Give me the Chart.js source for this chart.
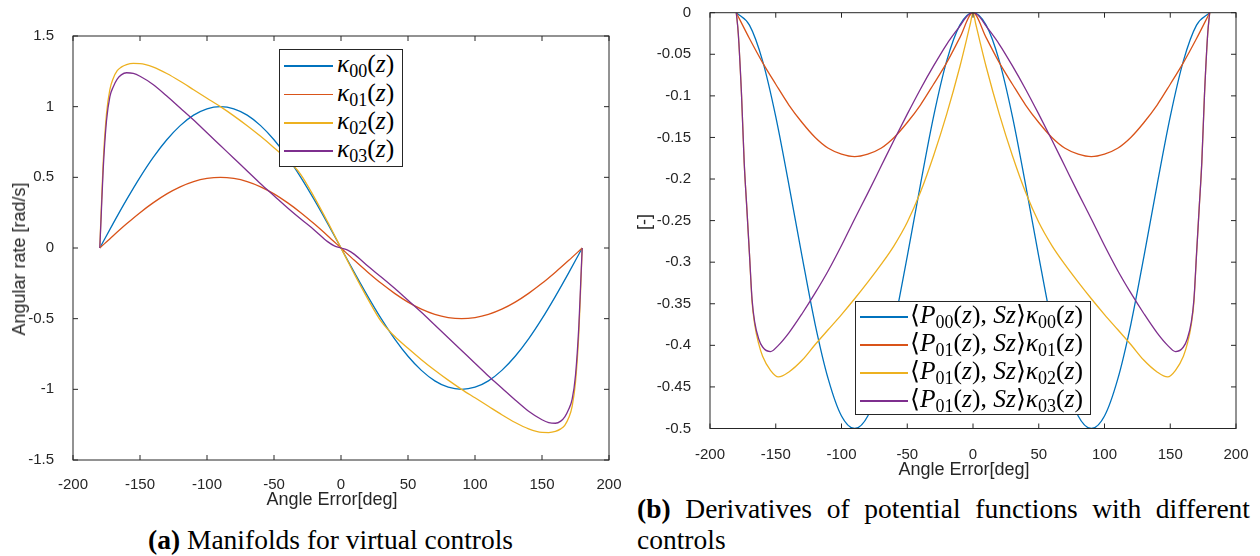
<!DOCTYPE html>
<html>
<head>
<meta charset="utf-8">
<script src="https://cdn.jsdelivr.net/npm/chart.js@4/dist/chart.umd.min.js"></script>
<style>
  body { margin: 0; width: 1260px; height: 556px; background: #fff; position: relative; overflow: hidden;
         font-family: 'Liberation Sans', Arial, sans-serif; color: #262626; }
  .panel { position: absolute; top: 0; }
  #panelA { left: 0; width: 630px; height: 520px; }
  #panelB { left: 630px; width: 630px; height: 470px; }
  .xtitle { position: absolute; font-size: 18px; line-height: 18px; white-space: nowrap; transform: translateX(-50%); }
  .ytitle { position: absolute; font-size: 18px; line-height: 18px; white-space: nowrap; transform: translate(-50%, -50%) rotate(-90deg); }
  .legend { position: absolute; background: #fff; border: 1px solid #262626; box-sizing: border-box; }
  .entry { position: absolute; left: 0; height: 0; }
  .swatch { position: absolute; height: 1.3px; top: -0.65px; }
  .math { position: absolute; top: -15px; white-space: nowrap; line-height: 25px; font-size: 25.5px;
          font-family: 'Liberation Serif', 'DejaVu Serif', serif; color: #000; }
  .math sub { font-size: 18px; vertical-align: -5px; line-height: 0; }
  .caption { position: absolute; font-family: 'Liberation Serif', 'DejaVu Serif', serif; font-size: 27.5px;
             line-height: 31px; color: #000; white-space: nowrap; }
  .caption.wrap { white-space: normal; text-align: justify; }
</style>
</head>
<body>
<div class="panel" id="panelA"><canvas id="chartA"></canvas></div>
<div class="panel" id="panelB"><canvas id="chartB"></canvas></div>

<div class="xtitle" style="left:332px; top:490px;">Angle Error[deg]</div>
<div class="ytitle" style="left:18.5px; top:259px;">Angular rate [rad/s]</div>
<div class="xtitle" style="left:964px; top:460px;">Angle Error[deg]</div>
<div class="ytitle" style="left:644px; top:222px;">[-]</div>

<div class="legend" id="legendA" style="left:279px; top:49px; width:124px; height:118px;"></div>
<div class="legend" id="legendB" style="left:855px; top:301px; width:236px; height:114px;"></div>

<div class="caption" style="left:148px; top:524px;"><b>(a)</b> Manifolds for virtual controls</div>
<div class="caption wrap" style="left:637px; top:493px; width:613px;"><b>(b)</b> Derivatives of potential functions with different controls</div>

<script>
// ------------------------------------------------------------
//  angles (deg)
// ------------------------------------------------------------
const anglesEvery10 = [-180,-170,-160,-150,-140,-130,-120,-110,-100,-90,-80,-70,-60,-50,-40,-30,-20,-10,0,
                       10,20,30,40,50,60,70,80,90,100,110,120,130,140,150,160,170,180];

// denser near the ends where kappa02 / kappa03 shoot up
const anglesSteepA = [-180,-179,-177.5,-175,-172.5,-170,-167,-164,-160,-155,-150,-140,-130,-120,-110,-100,
                      -90,-80,-70,-60,-50,-40,-30,-20,-10,-5,0,5,10,20,30,40,50,60,70,80,90,
                      100,110,120,130,140,150,155,160,164,167,170,172.5,175,177.5,179,180];

const anglesSteepB = [-180,-178.5,-176,-174,-172,-170,-168,-166,-163,-160,-154,-148,-140,-130,-120,-110,
                      -100,-90,-80,-70,-60,-50,-40,-30,-20,-10,-5,-2,0,2,5,10,20,30,40,50,60,70,80,90,
                      100,110,120,130,140,148,154,160,163,166,168,170,172,174,176,178.5,180];

// ------------------------------------------------------------
//  (a) manifolds kappa_0x(z)  [rad/s]
// ------------------------------------------------------------
const kappa00 = [0,0.174,0.342,0.5,0.643,0.766,0.866,0.94,0.985,1,0.985,0.94,0.866,0.766,0.643,0.5,0.342,0.174,0,
                 -0.174,-0.342,-0.5,-0.643,-0.766,-0.866,-0.94,-0.985,-1,-0.985,-0.94,-0.866,-0.766,-0.643,-0.5,-0.342,-0.174,0];

const kappa01 = [0,0.087,0.171,0.25,0.321,0.383,0.433,0.47,0.492,0.5,0.492,0.47,0.433,0.383,0.321,0.25,0.171,0.087,0,
                 -0.087,-0.171,-0.25,-0.321,-0.383,-0.433,-0.47,-0.492,-0.5,-0.492,-0.47,-0.433,-0.383,-0.321,-0.25,-0.171,-0.087,0];

const kappa02 = [0,0.25,0.6,0.95,1.12,1.2,1.255,1.28,1.298,1.306,1.305,1.28,1.235,1.18,1.12,1.06,
                 1.0,0.935,0.865,0.79,0.71,0.625,0.52,0.36,0.185,0.093,0,-0.093,-0.185,-0.36,-0.52,-0.625,-0.71,-0.79,-0.865,-0.935,-1.0,
                 -1.06,-1.12,-1.18,-1.235,-1.28,-1.305,-1.306,-1.298,-1.28,-1.255,-1.2,-1.12,-0.95,-0.6,-0.25,0];

const kappa03 = [0,0.22,0.55,0.9,1.07,1.14,1.195,1.225,1.24,1.235,1.215,1.155,1.075,0.99,0.905,0.815,
                 0.725,0.635,0.545,0.455,0.37,0.285,0.205,0.128,0.045,0.015,0,-0.015,-0.045,-0.128,-0.205,-0.285,-0.37,-0.455,-0.545,-0.635,-0.725,
                 -0.815,-0.905,-0.99,-1.075,-1.155,-1.215,-1.235,-1.24,-1.225,-1.195,-1.14,-1.07,-0.9,-0.55,-0.22,0];

// ------------------------------------------------------------
//  (b) <P(z), Sz> kappa(z)  [-]
// ------------------------------------------------------------
const deriv00 = [0,-0.015,-0.058,-0.125,-0.207,-0.293,-0.375,-0.441,-0.485,-0.5,-0.485,-0.441,-0.375,-0.293,-0.207,-0.125,-0.058,-0.015,0,
                 -0.015,-0.058,-0.125,-0.207,-0.293,-0.375,-0.441,-0.485,-0.5,-0.485,-0.441,-0.375,-0.293,-0.207,-0.125,-0.058,-0.015,0];

const deriv01 = [0,-0.031,-0.06,-0.086,-0.111,-0.132,-0.15,-0.163,-0.17,-0.173,-0.17,-0.163,-0.15,-0.132,-0.111,-0.086,-0.06,-0.03,0,
                 -0.03,-0.06,-0.086,-0.111,-0.132,-0.15,-0.163,-0.17,-0.173,-0.17,-0.163,-0.15,-0.132,-0.111,-0.086,-0.06,-0.031,0];

const deriv02 = [0,-0.025,-0.1,-0.18,-0.235,-0.29,-0.348,-0.375,-0.398,-0.413,-0.43,-0.438,-0.432,-0.418,-0.399,-0.381,
                 -0.363,-0.344,-0.324,-0.303,-0.28,-0.252,-0.216,-0.172,-0.122,-0.065,-0.033,-0.013,0,
                 -0.013,-0.033,-0.065,-0.122,-0.172,-0.216,-0.252,-0.28,-0.303,-0.324,-0.344,-0.363,
                 -0.381,-0.399,-0.418,-0.432,-0.438,-0.43,-0.413,-0.398,-0.375,-0.348,-0.29,-0.235,-0.18,-0.1,-0.025,0];

const deriv03 = [0,-0.025,-0.1,-0.18,-0.235,-0.29,-0.345,-0.372,-0.392,-0.402,-0.4075,-0.4,-0.385,-0.362,-0.337,-0.31,
                 -0.28,-0.248,-0.217,-0.185,-0.153,-0.122,-0.092,-0.064,-0.038,-0.016,-0.005,-0.001,0,
                 -0.001,-0.005,-0.016,-0.038,-0.064,-0.092,-0.122,-0.153,-0.185,-0.217,-0.248,-0.28,
                 -0.31,-0.337,-0.362,-0.385,-0.4,-0.4075,-0.402,-0.392,-0.372,-0.345,-0.29,-0.235,-0.18,-0.1,-0.025,0];

// ------------------------------------------------------------
//  ticks + legend labels
// ------------------------------------------------------------
const xTicks      = [-200,-150,-100,-50,0,50,100,150,200];
const xTickLabels = ['-200','-150','-100','-50','0','50','100','150','200'];
const yTicksA      = [-1.5,-1,-0.5,0,0.5,1,1.5];
const yTickLabelsA = ['-1.5','-1','-0.5','0','0.5','1','1.5'];
const yTicksB      = [-0.5,-0.45,-0.4,-0.35,-0.3,-0.25,-0.2,-0.15,-0.1,-0.05,0];
const yTickLabelsB = ['-0.5','-0.45','-0.4','-0.35','-0.3','-0.25','-0.2','-0.15','-0.1','-0.05','0'];

const legendLabelsA = [
  '<i>κ</i><sub>00</sub>(<i>z</i>)',
  '<i>κ</i><sub>01</sub>(<i>z</i>)',
  '<i>κ</i><sub>02</sub>(<i>z</i>)',
  '<i>κ</i><sub>03</sub>(<i>z</i>)'
];
const legendLabelsB = [
  '⟨<i>P</i><sub>00</sub>(<i>z</i>), <i>Sz</i>⟩<i>κ</i><sub>00</sub>(<i>z</i>)',
  '⟨<i>P</i><sub>01</sub>(<i>z</i>), <i>Sz</i>⟩<i>κ</i><sub>01</sub>(<i>z</i>)',
  '⟨<i>P</i><sub>01</sub>(<i>z</i>), <i>Sz</i>⟩<i>κ</i><sub>02</sub>(<i>z</i>)',
  '⟨<i>P</i><sub>01</sub>(<i>z</i>), <i>Sz</i>⟩<i>κ</i><sub>03</sub>(<i>z</i>)'
];

const lineColors = ['#0072BD', '#D95319', '#EDB120', '#7E2F8E'];
const axisColor = '#262626';
const tickFont = { family: "'Liberation Sans', Arial, sans-serif", size: 15 };

// ------------------------------------------------------------
//  helpers
// ------------------------------------------------------------
function series(xs, ys, idx) {
  return {
    data: xs.map((x, i) => ({ x: x, y: ys[i] })),
    borderColor: lineColors[idx],
    borderWidth: 1.3,
    pointRadius: 0,
    fill: false,
    cubicInterpolationMode: 'monotone',
    order: 3 - idx            // later series drawn on top
  };
}

// closed box with inward tick marks on all four sides
const axesBox = {
  id: 'axesBox',
  afterDatasetsDraw(chart) {
    const { ctx, chartArea: a, scales: { x, y } } = chart;
    const len = 5;
    ctx.save();
    ctx.strokeStyle = axisColor;
    ctx.lineWidth = 1;
    ctx.strokeRect(a.left, a.top, a.right - a.left, a.bottom - a.top);
    ctx.beginPath();
    x.ticks.forEach((t) => {
      const px = x.getPixelForValue(t.value);
      ctx.moveTo(px, a.bottom); ctx.lineTo(px, a.bottom - len);
      ctx.moveTo(px, a.top);    ctx.lineTo(px, a.top + len);
    });
    y.ticks.forEach((t) => {
      const py = y.getPixelForValue(t.value);
      ctx.moveTo(a.left, py);  ctx.lineTo(a.left + len, py);
      ctx.moveTo(a.right, py); ctx.lineTo(a.right - len, py);
    });
    ctx.stroke();
    ctx.restore();
  }
};

function makeChart(canvasId, cfg) {
  return new Chart(document.getElementById(canvasId), {
    type: 'line',
    data: { datasets: cfg.datasets },
    options: {
      responsive: true,
      maintainAspectRatio: false,
      animation: false,
      layout: { padding: cfg.padding },
      plugins: { legend: { display: false }, tooltip: { enabled: false } },
      scales: {
        x: {
          type: 'linear', min: -200, max: 200,
          grid: { display: false }, border: { display: false },
          afterBuildTicks: (s) => { s.ticks = xTicks.map((v) => ({ value: v })); },
          afterFit: (s) => { s.height = cfg.xHeight; s.paddingLeft = 0; s.paddingRight = 0; },
          ticks: { padding: cfg.xPad, font: tickFont, color: axisColor, maxRotation: 0, autoSkip: false,
                   callback: (v, i) => xTickLabels[i] }
        },
        y: {
          type: 'linear', min: cfg.yTicks[0], max: cfg.yTicks[cfg.yTicks.length - 1],
          grid: { display: false }, border: { display: false },
          afterBuildTicks: (s) => { s.ticks = cfg.yTicks.map((v) => ({ value: v })); },
          afterFit: (s) => { s.width = cfg.yWidth; s.paddingTop = 0; s.paddingBottom = 0; },
          ticks: { padding: 11, font: tickFont, color: axisColor, autoSkip: false,
                   callback: (v, i) => cfg.yLabels[i] }
        }
      }
    },
    plugins: [axesBox]
  });
}

function buildLegend(id, labels, rows, lineLeft, lineWidth, textLeft) {
  const box = document.getElementById(id);
  labels.forEach((html, i) => {
    const entry = document.createElement('div');
    entry.className = 'entry';
    entry.style.top = rows[i] + 'px';
    entry.innerHTML =
      '<span class="swatch" style="left:' + lineLeft + 'px;width:' + lineWidth + 'px;background:' + lineColors[i] + '"></span>' +
      '<span class="math" style="left:' + textLeft + 'px">' + html + '</span>';
    box.appendChild(entry);
  });
}

// ------------------------------------------------------------
//  (a) Manifolds for virtual controls
// ------------------------------------------------------------
makeChart('chartA', {
  datasets: [
    series(anglesEvery10, kappa00, 0),
    series(anglesEvery10, kappa01, 1),
    series(anglesSteepA, kappa02, 2),
    series(anglesSteepA, kappa03, 3)
  ],
  padding: { left: 0, top: 36, right: 21, bottom: 0 },
  yWidth: 73, xHeight: 60, xPad: 8,
  yTicks: yTicksA, yLabels: yTickLabelsA
});

// ------------------------------------------------------------
//  (b) Derivatives of potential functions
// ------------------------------------------------------------
makeChart('chartB', {
  datasets: [
    series(anglesEvery10, deriv00, 0),
    series(anglesEvery10, deriv01, 1),
    series(anglesSteepB, deriv02, 2),
    series(anglesSteepB, deriv03, 3)
  ],
  padding: { left: 0, top: 12.7, right: 24, bottom: 0 },
  yWidth: 80, xHeight: 41.5, xPad: 9,
  yTicks: yTicksB, yLabels: yTickLabelsB
});

buildLegend('legendA', legendLabelsA, [16, 44.5, 73, 101], 4, 49, 57);
buildLegend('legendB', legendLabelsB, [15, 43, 71, 99], 4, 48, 54);
</script>
</body>
</html>
